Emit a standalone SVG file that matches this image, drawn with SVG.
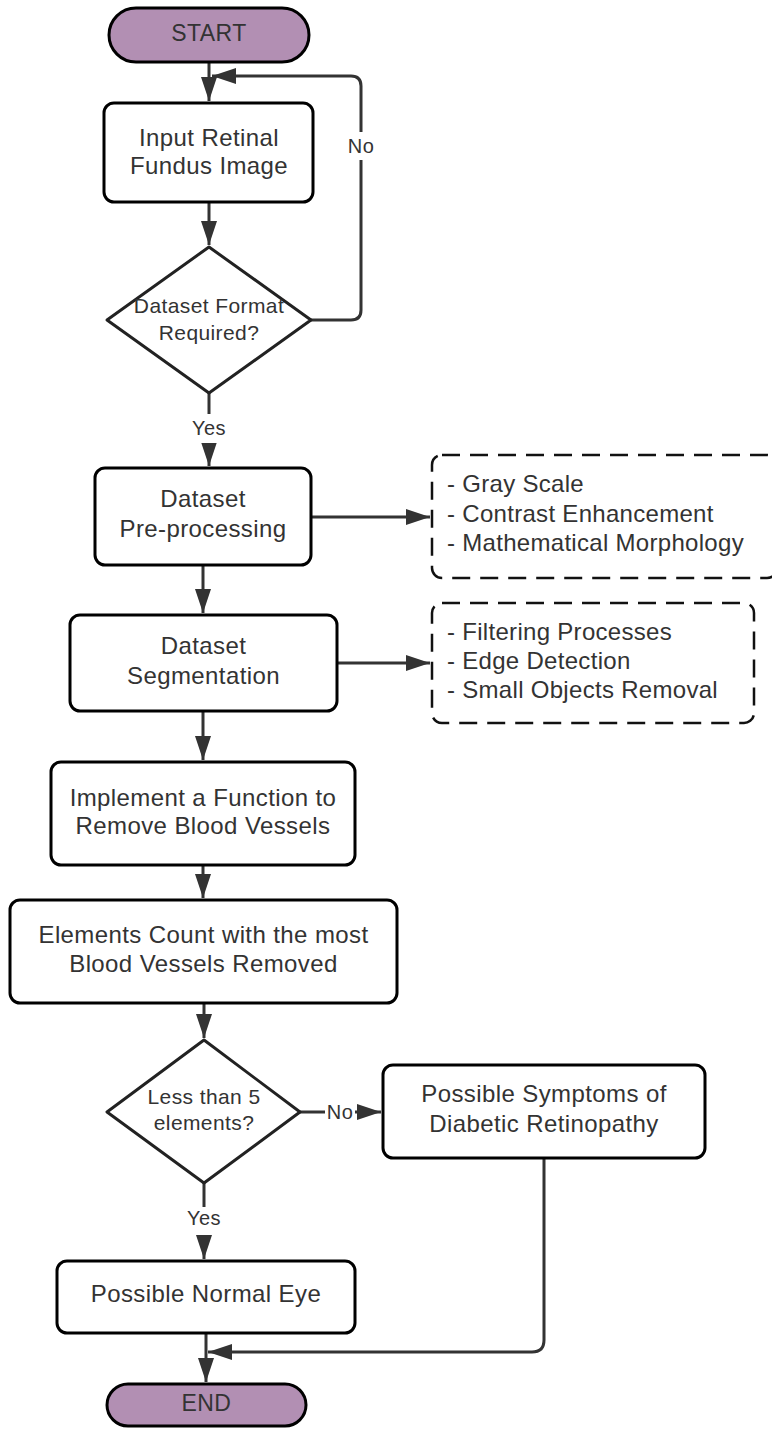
<svg xmlns="http://www.w3.org/2000/svg" width="772" height="1429" viewBox="0 0 772 1429">
  <defs>
    <marker id="arrow" markerUnits="userSpaceOnUse" markerWidth="24" markerHeight="16" refX="24" refY="8" orient="auto">
      <path d="M0,0 L24,8 L0,16 z" fill="#333"/>
    </marker>
    <style>
      .box { fill: #fff; stroke: #000; stroke-width: 3; }
      .term { fill: #b28fb3; stroke: #000; stroke-width: 3; }
      .note { fill: #fff; stroke: #111; stroke-width: 2.5; stroke-dasharray: 18 10; }
      .dec { fill: #fff; stroke: #222; stroke-width: 3; stroke-linejoin: round; }
      .t { font-family: "Liberation Sans", Arial, sans-serif; font-size: 24px; fill: #333; text-anchor: middle; letter-spacing: 0.4px; }
      .ts { font-family: "Liberation Sans", Arial, sans-serif; font-size: 21px; fill: #333; text-anchor: middle; letter-spacing: 0.4px; }
      .tn { font-family: "Liberation Sans", Arial, sans-serif; font-size: 24px; fill: #333; letter-spacing: 0.3px; }
      .lbl { font-family: "Liberation Sans", Arial, sans-serif; font-size: 20px; fill: #333; text-anchor: middle; letter-spacing: 0.4px; }
      .c { fill: none; stroke: #333; stroke-width: 3; }
      .bg { fill: #fff; }
    </style>
  </defs>

  <!-- connectors -->
  <g id="connectors">
    <path class="c" d="M209,62 V101" marker-end="url(#arrow)"/>
    <path class="c" d="M209,202 V245" marker-end="url(#arrow)"/>
    <path class="c" d="M311,320 H351 Q361,320 361,310 V86 Q361,76 351,76 H212" marker-end="url(#arrow)"/>
    <rect class="bg" x="345" y="132" width="32" height="28"/>
    <text class="lbl" x="361" y="153">No</text>

    <path class="c" d="M209,393 V466" marker-end="url(#arrow)"/>
    <rect class="bg" x="190" y="414" width="38" height="29"/>
    <text class="lbl" x="209" y="435">Yes</text>

    <path class="c" d="M203,565 V613" marker-end="url(#arrow)"/>
    <path class="c" d="M311,517 H430" marker-end="url(#arrow)"/>
    <path class="c" d="M337,663 H430" marker-end="url(#arrow)"/>
    <path class="c" d="M203,711 V760" marker-end="url(#arrow)"/>
    <path class="c" d="M203,865 V898" marker-end="url(#arrow)"/>
    <path class="c" d="M204,1003 V1038" marker-end="url(#arrow)"/>

    <path class="c" d="M300,1112 H381" marker-end="url(#arrow)"/>
    <rect class="bg" x="325" y="1098" width="30" height="26"/>
    <text class="lbl" x="340" y="1119">No</text>

    <path class="c" d="M204,1183 V1259" marker-end="url(#arrow)"/>
    <rect class="bg" x="185" y="1207" width="38" height="28"/>
    <text class="lbl" x="204" y="1225">Yes</text>

    <path class="c" d="M206,1333 V1382" marker-end="url(#arrow)"/>
    <path class="c" d="M544,1158 V1340 Q544,1352 532,1352 H208" marker-end="url(#arrow)"/>
  </g>

  <!-- nodes -->
  <g id="start">
    <rect class="term" x="109" y="8" width="200" height="54" rx="27"/>
    <text class="t" x="209" y="41" style="font-size:23px">START</text>
  </g>

  <g id="input">
    <rect class="box" x="104" y="103" width="209" height="99" rx="10"/>
    <text class="t" x="209" y="145.5">Input Retinal</text>
    <text class="t" x="209" y="173.5">Fundus Image</text>
  </g>

  <g id="format-check">
    <polygon class="dec" points="209,247 311,320 209,393 107,320"/>
    <text class="ts" x="209" y="312.5">Dataset Format</text>
    <text class="ts" x="209" y="339.5">Required?</text>
  </g>

  <g id="preprocessing">
    <rect class="box" x="95" y="468" width="216" height="97" rx="10"/>
    <text class="t" x="203" y="506.5">Dataset</text>
    <text class="t" x="203" y="536.5">Pre-processing</text>
  </g>

  <g id="preprocessing-notes">
    <rect class="note" x="432" y="455" width="345" height="123" rx="10"/>
    <text class="tn" x="447" y="491.5">- Gray Scale</text>
    <text class="tn" x="447" y="521.5">- Contrast Enhancement</text>
    <text class="tn" x="447" y="550.5">- Mathematical Morphology</text>
  </g>

  <g id="segmentation">
    <rect class="box" x="70" y="615" width="267" height="96" rx="10"/>
    <text class="t" x="203.5" y="653.5">Dataset</text>
    <text class="t" x="203.5" y="683.5">Segmentation</text>
  </g>

  <g id="segmentation-notes">
    <rect class="note" x="432" y="603" width="322" height="120" rx="10"/>
    <text class="tn" x="447" y="639.5">- Filtering Processes</text>
    <text class="tn" x="447" y="668.5">- Edge Detection</text>
    <text class="tn" x="447" y="697.5">- Small Objects Removal</text>
  </g>

  <g id="remove-vessels">
    <rect class="box" x="51" y="762" width="304" height="103" rx="10"/>
    <text class="t" x="203" y="805.5">Implement a Function to</text>
    <text class="t" x="203" y="833.5">Remove Blood Vessels</text>
  </g>

  <g id="count-elements">
    <rect class="box" x="10" y="900" width="387" height="103" rx="10"/>
    <text class="t" x="203.5" y="942.5">Elements Count with the most</text>
    <text class="t" x="203.5" y="971.5">Blood Vessels Removed</text>
  </g>

  <g id="count-check">
    <polygon class="dec" points="204,1040 300,1112 204,1183 107,1112"/>
    <text class="ts" x="204" y="1104.4">Less than 5</text>
    <text class="ts" x="204" y="1130.4">elements?</text>
  </g>

  <g id="retinopathy">
    <rect class="box" x="383" y="1065" width="322" height="93" rx="10"/>
    <text class="t" x="544" y="1101.5">Possible Symptoms of</text>
    <text class="t" x="544" y="1131.5">Diabetic Retinopathy</text>
  </g>

  <g id="normal-eye">
    <rect class="box" x="57" y="1261" width="298" height="72" rx="10"/>
    <text class="t" x="206" y="1301.5">Possible Normal Eye</text>
  </g>

  <g id="end">
    <rect class="term" x="107" y="1384" width="199" height="42" rx="21"/>
    <text class="t" x="206.5" y="1411" style="font-size:23px">END</text>
  </g>
</svg>
